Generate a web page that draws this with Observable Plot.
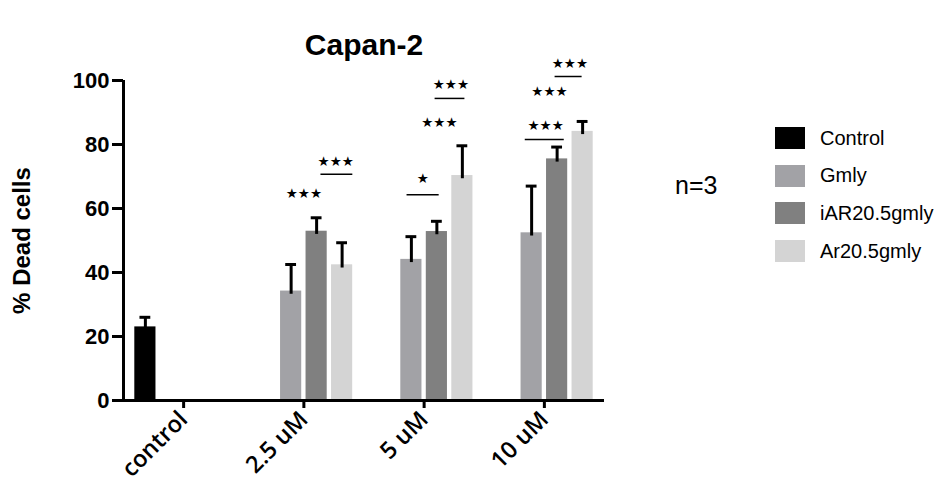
<!DOCTYPE html>
<html>
<head>
<meta charset="utf-8">
<script src="https://cdn.jsdelivr.net/npm/d3@7"></script>
<script src="https://cdn.jsdelivr.net/npm/@observablehq/plot@0.6"></script>
<style>
  html, body { margin: 0; padding: 0; background: #fff; }
  #wrap { position: relative; width: 940px; height: 485px; overflow: hidden; }
  #legend { position: absolute; left: 775px; top: 127px; font-family: "Liberation Sans", Arial, sans-serif; font-size: 20px; color: #000; }
  .item { display: flex; align-items: center; height: 22px; margin-bottom: 15.7px; }
  .sw { width: 30px; height: 22px; margin-right: 15px; }
  #nlabel { position: absolute; left: 675px; top: 173px; font-family: "Liberation Sans", Arial, sans-serif; font-size: 25px; line-height: 25px; color: #000; }
</style>
</head>
<body>
<div id="wrap"><div id="legend"></div><div id="nlabel">n=3</div></div>
<script>
// ---- data ----
const categories = ["control", "2.5 uM", "5 uM", "10 uM"];
const series = ["Control", "Gmly", "iAR20.5gmly", "Ar20.5gmly"];
const colors = ["#000000", "#a2a2a6", "#808080", "#d4d4d4"];

const controlMean = [23.0, null, null, null];
const gmlyMean    = [null, 34.2, 44.1, 52.4];
const iarMean     = [null, 52.9, 52.8, 75.5];
const arMean      = [null, 42.4, 70.3, 84.1];

const controlSD = [3.0, null, null, null];
const gmlySD    = [null, 8.3, 7.1, 14.6];
const iarSD     = [null, 4.2, 3.2, 3.7];
const arSD      = [null, 6.9, 9.3, 3.1];

const yTicks = [0, 20, 40, 60, 80, 100];

// significance annotations (category, slot position, y level, stars)
const starCategory = ["2.5 uM", "2.5 uM", "5 uM", "5 uM", "5 uM", "10 uM", "10 uM", "10 uM"];
const starSlot     = [1.5, 2.75, 1.45, 2.1, 2.55, 1.55, 1.7, 2.5];
const starY        = [64.7, 74.7, 69.4, 86.9, 98.75, 85.9, 96.6, 105.3];
const starText     = ["***", "***", "*", "***", "***", "***", "***", "***"];

const lineCategory = ["2.5 uM", "5 uM", "5 uM", "10 uM", "10 uM"];
const lineFrom     = [2.17, 0.83, 1.93, 0.75, 1.92];
const lineTo       = [3.42, 2.09, 3.10, 2.28, 2.98];
const lineY        = [70.7, 64.3, 94.4, 81.6, 101.25];

// ---- layout helpers ----
const slotStep = 0.212, barHalf = 0.088, capHalf = 0.045;
const pos = (cat, slot) => categories.indexOf(cat) + (slot - 1.5) * slotStep;

const means = [controlMean, gmlyMean, iarMean, arMean];
const sds = [controlSD, gmlySD, iarSD, arSD];
const bars = [];
series.forEach((s, si) => categories.forEach((c, ci) => {
  const v = means[si][ci];
  if (v != null) bars.push({category: c, series: s, si, value: v, sd: sds[si][ci], x: pos(c, si)});
}));
const stars = starCategory.map((c, i) => ({x: pos(c, starSlot[i]), y: starY[i], text: starText[i].replace(/\*/g, "★")}));
const lines = lineCategory.map((c, i) => ({x1: pos(c, lineFrom[i]), x2: pos(c, lineTo[i]), y: lineY[i]}));

const chart = Plot.plot({
  width: 940, height: 485,
  marginLeft: 123, marginRight: 336, marginTop: 80, marginBottom: 85,
  x: {domain: [-0.5, 3.5], axis: null},
  y: {domain: [0, 100], axis: null},
  style: {fontFamily: "Liberation Sans, Arial, sans-serif", background: "white", color: "black", overflow: "visible"},
  marks: [
    Plot.rect(bars, {x1: d => d.x - barHalf, x2: d => d.x + barHalf, y1: () => 0, y2: "value", fill: d => colors[d.si]}),
    Plot.ruleX(bars, {x: "x", y1: d => d.value - 1, y2: d => d.value + d.sd, stroke: "black", strokeWidth: 3}),
    Plot.ruleY(bars, {y: d => d.value + d.sd, x1: d => d.x - capHalf, x2: d => d.x + capHalf, stroke: "black", strokeWidth: 3}),
    Plot.ruleX([-0.5], {stroke: "black", strokeWidth: 3}),
    Plot.ruleY([0], {stroke: "black", strokeWidth: 3}),
    Plot.axisY({ticks: yTicks, tickSize: 11, tickPadding: 3, label: null, strokeWidth: 3, fontSize: 22, fontWeight: "bold"}),
    Plot.axisX({ticks: [0, 1, 2, 3], tickFormat: i => categories[i], tickRotate: -45, tickSize: 8, tickPadding: 7, label: null,
      strokeWidth: 3, fontSize: 23.5, fontWeight: 600, fontFamily: "Open Sans, sans-serif"}),
    Plot.ruleY(lines, {x1: "x1", x2: "x2", y: "y", stroke: "black", strokeWidth: 1.5}),
    Plot.text(stars, {x: "x", y: "y", text: "text", fontSize: 13.5, fontFamily: "DejaVu Sans", fill: "black"}),
    Plot.text(["Capan-2"], {frameAnchor: "top", dy: -46.5, fontSize: 30, fontWeight: "bold", fill: "black"}),
    Plot.text(["% Dead cells"], {frameAnchor: "left", textAnchor: "middle", dx: -101, rotate: -90, fontSize: 24, fontWeight: "bold", fill: "black"})
  ]
});

// axis styling (applied to the axis groups and their text)
const svg = d3.select(chart);
svg.selectAll('g[aria-label="y-axis tick"], g[aria-label="x-axis tick"]')
  .attr("stroke-width", 3).attr("stroke", "black");
svg.selectAll('g[aria-label="y-axis tick label"]').attr("font-size", 22).attr("font-weight", "bold")
  .selectAll("text").attr("font-size", 22).attr("font-weight", "bold").attr("fill", "black");
svg.selectAll('g[aria-label="x-axis tick label"]').attr("font-size", 23.5).attr("font-weight", 600).attr("font-family", "Open Sans, sans-serif")
  .selectAll("text").attr("font-size", 23.5).attr("fill", "black");

document.getElementById("wrap").prepend(chart);

const legend = document.getElementById("legend");
series.forEach((s, i) => {
  const item = document.createElement("div");
  item.className = "item";
  item.innerHTML = `<div class="sw" style="background:${colors[i]}"></div><span>${s}</span>`;
  legend.appendChild(item);
});
</script>
</body>
</html>
